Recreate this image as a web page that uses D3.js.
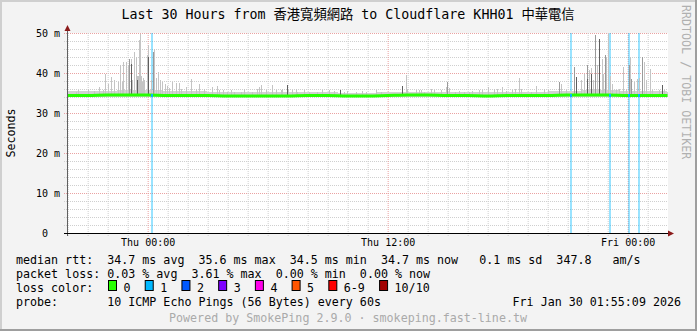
<!DOCTYPE html>
<meta charset="utf-8">
<style>
body { margin: 0; background: #f3f3f3; }
svg text { font-family: 'DejaVu Sans Mono', 'Noto Sans CJK TC', monospace; white-space: pre; }
</style>
<body>
<svg id="chart" width="697" height="331"></svg>
<script src="https://cdn.jsdelivr.net/npm/d3@7"></script>
<script>
var title = "Last 30 Hours from 香港寬頻網路 to Cloudflare KHH01 中華電信";
var startTime = new Date(2026, 0, 28, 19, 58);
var endTime = new Date(2026, 0, 30, 1, 58);
var yTop = 50; // ms

// median rtt, one value per hour from start (ms)
var median = [34.5,34.5,34.6,34.6,34.6,34.5,34.5,34.5,34.4,34.4,34.4,34.4,34.5,34.5,34.4,34.4,
              34.5,34.6,34.6,34.5,34.5,34.4,34.5,34.5,34.5,34.6,34.6,34.6,34.5,34.5,34.5];
// top of the normal smoke band, one value per hour (ms)
var band = [35.5,35.6,35.7,35.8,35.9,35.7,35.6,35.5,35.4,35.4,35.3,35.4,35.3,35.3,35.2,35.2,
            35.3,35.3,35.4,35.3,35.4,35.5,35.4,35.5,35.5,35.6,35.8,35.8,35.7,35.6,35.5];

// smoke spikes: [hours from start, ms]
var smokeHi = [
  [0.40,35.4],[0.50,35.8],[1.03,36.2],[1.32,35.6],[1.57,36.6],[1.77,35.8],[1.87,39.9],[2.00,37.5],
  [2.15,39.2],[2.32,38.3],[2.52,38.0],[2.62,42.1],[2.70,38.0],[2.78,42.9],[2.90,42.9],[3.02,42.1],
  [3.07,43.7],[3.15,43.7],[3.20,38.5],[3.32,45.4],[3.40,44.2],[3.45,39.5],[3.48,38.5],[3.52,39.5],
  [3.57,48.3],[3.60,50.0],[3.65,39.5],[3.70,38.0],[3.75,39.0],[3.82,38.5],[3.95,44.6],[4.02,47.1],
  [4.15,38.5],[4.27,45.3],[4.32,46.2],[4.40,39.0],[4.53,40.4],[4.62,38.5],[4.73,38.0],[4.85,37.5],
  [4.98,37.0],[5.07,36.4],[5.23,38.0],[5.40,37.7],[5.57,37.7],[5.65,36.2],[5.90,36.6],[6.15,38.7],
  [6.40,36.2],[6.57,37.5],[6.82,36.2],[7.23,36.6],[7.48,37.0],
  [7.57,36.0],[7.77,35.85],[7.98,35.4],[8.15,35.85],[8.32,35.4],[8.65,35.4],[8.82,36.25],[9.23,35.3],
  [9.45,36.25],[9.57,36.7],[9.65,37.1],[9.90,35.85],[10.2,37.1],[10.4,35.85],[10.65,35.85],[10.73,36.25],
  [10.95,37.1],[11.03,36.25],[11.23,35.85],[11.4,36.25],[11.48,35.4],[11.82,35.85],[12.07,35.4],
  [12.48,35.4],[12.73,35.85],[13.07,35.85],[13.32,35.6],[13.62,35.85],[13.82,35.4],[13.98,35.6],
  [14.4,35.4],[14.73,35.6],[14.9,35.4],
  [15.4,35.85],[15.65,35.4],[16.7,37.0],[16.93,39.7],[16.98,36.25],[17.4,35.85],[17.57,35.85],
  [17.65,35.85],[17.82,35.4],[18.15,36.25],[18.32,36.0],[18.65,35.85],[18.9,36.7],[18.98,37.9],
  [19.07,36.4],[19.37,35.4],[19.57,35.6],[19.85,35.4],[20.07,35.4],[20.23,35.6],[20.57,36.0],
  [20.73,35.85],[21.03,36.7],[21.32,36.25],[21.48,36.25],[21.73,36.7],[21.9,35.6],[22.23,35.85],
  [22.37,36.25],
  [22.57,38.9],[22.65,36.25],[23.15,35.4],[23.4,37.0],[23.82,36.25],[24.03,35.85],[24.57,38.0],
  [24.65,37.4],[24.93,35.85],[25.32,41.75],[25.4,39.1],[25.65,38.3],[25.82,39.96],[25.95,42.25],
  [26.07,41.0],[26.2,41.4],[26.27,38.4],[26.37,49.6],[26.45,42.1],[26.57,48.75],[26.7,43.75],
  [26.78,40.0],[26.85,44.6],[26.93,44.2],[27.03,50.0],[27.1,39.5],[27.23,37.5],[27.4,35.85],
  [27.57,36.25],[27.77,41.6],[27.9,36.25],[28.07,42.1],[28.1,44.2],[28.2,38.75],[28.32,37.9],
  [28.48,38.75],[28.57,38.9],[28.73,44.2],[28.82,42.9],[28.9,38.5],[29.1,41.2],[29.23,35.85],
  [29.57,35.85],[29.73,37.2],[29.82,35.85]
];
var smokeMid = [[3.07,43.7],[4.27,45.3],[18.98,37.9],[24.57,38.0],[25.32,41.75],[25.95,42.25],
  [26.37,49.6],[26.85,44.6],[28.07,42.1],[28.2,38.75],[28.73,44.2]];
var smokeDark = [[3.15,42.4],[3.45,38.5],[4.02,44.1],[10.95,37.1],[13.62,35.85],[16.7,37.0],
  [25.4,39.1],[25.95,38.7],[26.2,40.0],[26.57,48.75],[29.73,37.2]];

// times with 1/10 packets lost (hours from start)
var lossAt = [4.23, 25.2, 27.1, 28.08, 28.58];

var lossLabels = ["0","1","2","3","4","5","6-9","10/10"];
var lossColors = ["#26ff00","#00b8ff","#0059ff","#7e00ff","#ff00ea","#ff5500","#ff0000","#a10000"];

var legendRows = [
  "median rtt:  34.7 ms avg  35.6 ms max  34.5 ms min  34.7 ms now   0.1 ms sd  347.8   am/s",
  "packet loss: 0.03 % avg  3.61 % max  0.00 % min  0.00 % now",
  "loss color:",
  "probe:       10 ICMP Echo Pings (56 Bytes) every 60s"
];
var stamp = "Fri Jan 30 01:55:09 2026";
var footer = "Powered by SmokePing 2.9.0 · smokeping.fast-line.tw";
var watermark = "RRDTOOL / TOBI OETIKER";

var W = 697, H = 331;
var svg = d3.select("#chart");
var at = h => new Date(startTime.getTime() + h * 3600e3);

var x = d3.scaleTime().domain([startTime, endTime]).range([67.5, 667.5]);
var y = d3.scaleLinear().domain([0, yTop]).range([233.5, 33.5]);

// frame
svg.append("rect").attr("width", W).attr("height", H).attr("fill", "#f3f3f3");
svg.append("path").attr("d", `M1,${H} V1 H${W}`).attr("stroke", "#cfcfcf").attr("stroke-width", 2).attr("fill", "none");
svg.append("path").attr("d", `M0,${H-1} H${W-1} V0`).attr("stroke", "#9e9e9e").attr("stroke-width", 2).attr("fill", "none");

// canvas
svg.append("rect").attr("x", 67).attr("y", 33).attr("width", 601).attr("height", 200).attr("fill", "#fff");

var hours = d3.timeHour.range(startTime, endTime);
var majors = d3.timeHour.every(12).range(startTime, endTime);
var isMajor = d => d.getHours() % 12 === 0;

var grid = svg.append("g").attr("fill", "none").attr("stroke-dasharray", "1,1");
// horizontal
d3.range(2, yTop + 1, 2).forEach(v => {
  grid.append("line").attr("x1", 64).attr("x2", 668).attr("y1", y(v)).attr("y2", y(v))
    .attr("stroke", v % 10 === 0 ? "#eaa2a2" : "#cfcfcf");
});
// vertical
hours.forEach(d => {
  grid.append("line").attr("x1", x(d)).attr("x2", x(d)).attr("y1", 33).attr("y2", 236)
    .attr("stroke", isMajor(d) ? "#eaa2a2" : "#cfcfcf");
});

// loss background lines
svg.append("g").selectAll("rect").data(lossAt).join("rect")
  .attr("x", d => Math.round(x(at(d))) - 1).attr("y", 33).attr("width", 2).attr("height", 200)
  .attr("fill", lossColors[1]).attr("opacity", 0.4);

// smoke
var smoke = svg.append("g").attr("shape-rendering", "crispEdges");
smoke.append("path")
  .datum(band)
  .attr("fill", "#d2d2d2")
  .attr("d", d3.area().x((d, i) => x(at(i))).y0(y(34.2)).y1(d => y(d)).curve(d3.curveMonotoneX));
function bars(list, col) {
  smoke.append("g").selectAll("rect").data(list).join("rect")
    .attr("x", d => Math.round(x(at(d[0])))).attr("width", 1)
    .attr("y", d => y(d[1])).attr("height", d => y(34.6) - y(d[1]))
    .attr("fill", col);
}
bars(smokeHi, "#c4c4c4");
bars(smokeMid, "#9a9a9a");
bars(smokeDark, "#5e5e5e");

// median
svg.append("path").datum(median)
  .attr("fill", "none").attr("stroke", lossColors[0]).attr("stroke-width", 3)
  .attr("d", d3.line().x((d, i) => x(at(i))).y(d => y(d)).curve(d3.curveMonotoneX));
svg.append("g").selectAll("rect").data(lossAt).join("rect")
  .attr("x", d => Math.round(x(at(d))) - 1).attr("y", y(34.5) - 1.5).attr("width", 2).attr("height", 3)
  .attr("fill", lossColors[1]);

// axes
svg.append("line").attr("x1", 67.5).attr("x2", 67.5).attr("y1", 236).attr("y2", 30).attr("stroke", "#606060");
svg.append("line").attr("x1", 64).attr("x2", 669).attr("y1", 233.5).attr("y2", 233.5).attr("stroke", "#000");
svg.append("path").attr("d", "M64.5,31 L67.5,25 L70.5,31 Z").attr("fill", "#8b1a1a");
svg.append("path").attr("d", "M668,230.5 L674,233.5 L668,236.5 Z").attr("fill", "#8b1a1a");

// y labels
svg.append("g").selectAll("text").data(d3.range(0, yTop + 1, 10)).join("text")
  .attr("x", 60).attr("y", d => y(d) + 3.8).attr("text-anchor", "end")
  .attr("font-size", "10px").attr("fill", "#000")
  .text(d => d === 0 ? "0  " : d + " m");
// x labels
svg.append("g").selectAll("text").data(majors).join("text")
  .attr("x", d => x(d)).attr("y", 246).attr("text-anchor", "middle")
  .attr("font-size", "10px").attr("fill", "#000")
  .text(d3.timeFormat("%a %H:%M"));

// titles
svg.append("text").attr("x", 348).attr("y", 19).attr("text-anchor", "middle")
  .attr("font-size", "13.3px").attr("fill", "#000").text(title);
svg.append("text").attr("transform", "translate(15,133) rotate(-90)").attr("text-anchor", "middle")
  .attr("font-size", "11.66px").attr("fill", "#000").text("Seconds");
svg.append("text").attr("transform", "translate(682,5) rotate(90)")
  .attr("font-size", "11.66px").attr("fill", "#b0b0b0").text(watermark);

// legend
var leg = svg.append("g").attr("font-size", "11.66px").attr("fill", "#000");
legendRows.forEach((t, i) => {
  leg.append("text").attr("x", 16).attr("y", 263.5 + i * 14).text(t);
});
var cw = 7.02, cx = 108.5;
lossLabels.forEach((l, i) => {
  leg.append("rect").attr("x", cx).attr("y", 280.5).attr("width", 8).attr("height", 10)
    .attr("fill", lossColors[i]).attr("stroke", "#000");
  leg.append("text").attr("x", cx + 15).attr("y", 291.5).text(l);
  cx += 15 + l.length * cw + 14.7;
});
leg.append("text").attr("x", 681).attr("y", 305.5).attr("text-anchor", "end").text(stamp);
svg.append("text").attr("x", 348).attr("y", 322).attr("text-anchor", "middle")
  .attr("font-size", "11.66px").attr("fill", "#aaa").text(footer);
</script>
</body>
